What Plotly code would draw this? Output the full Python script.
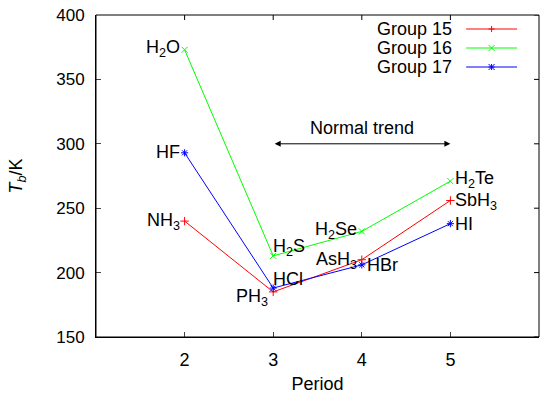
import plotly.graph_objects as go

periods = [2, 3, 4, 5]
group15 = [240, 185, 210, 256]
group16 = [373, 213, 232, 271]
group17 = [293, 188, 206, 238]
series_names = ["Group 15", "Group 16", "Group 17"]
series_colors = ["#ff0000", "#00ff00", "#0000ff"]
series_symbols = ["cross-thin", "x-thin", "asterisk"]
x_ticks = [2, 3, 4, 5]
y_ticks = [150, 200, 250, 300, 350, 400]
x_range = [1, 6]
y_range = [150, 400]

labels15 = ["NH<sub>3</sub>", "PH<sub>3</sub>", "AsH<sub>3</sub>", "SbH<sub>3</sub>"]
labels16 = ["H<sub>2</sub>O", "H<sub>2</sub>S", "H<sub>2</sub>Se", "H<sub>2</sub>Te"]
labels17 = ["HF", "HCl", "HBr", "HI"]

FONT = "Liberation Sans, Arial, sans-serif"
FS = 18
TL = 5
fig = go.Figure()
for name, vals, col, sym in zip(series_names, [group15, group16, group17], series_colors, series_symbols):
    fig.add_trace(go.Scatter(
        x=periods, y=vals, mode="lines+markers", name=name, showlegend=False,
        line=dict(color=col, width=1),
        marker=dict(symbol=sym, size=6, color=col, line=dict(color=col, width=1)),
        hoverinfo="skip",
    ))

ann = []
def lab(text, x, y, xanchor, dx=0, dy=0):
    ann.append(dict(x=x, y=y, xref="x", yref="y", text=text, showarrow=False,
                    xanchor=xanchor, yanchor="middle", xshift=dx, yshift=dy,
                    font=dict(family=FONT, size=FS, color="black")))

lab(labels16[0], periods[0], group16[0], "right", -3, 1)
lab(labels17[0], periods[0], group17[0], "right", -3, 1)
lab(labels15[0], periods[0], group15[0], "right", -3, 0)
lab(labels16[1], periods[1], group16[1], "left", -2, 8)
lab(labels17[1], periods[1], group17[1], "left", -2, 9)
lab(labels15[1], periods[1], group15[1], "right", -3, -6)
lab(labels16[2], periods[2], group16[2], "right", -3, 1)
lab(labels15[2], periods[2], group15[2], "right", -3, -1)
lab(labels17[2], periods[2], group17[2], "left", 3, 0)
lab(labels16[3], periods[3], group16[3], "left", 3, 2)
lab(labels15[3], periods[3], group15[3], "left", 3, -1)
lab(labels17[3], periods[3], group17[3], "left", 3, 0)

ann.append(dict(x=5, y=300, ax=3, ay=300, xref="x", yref="y", axref="x", ayref="y",
                showarrow=True, arrowhead=2, arrowside="end+start", arrowsize=1.2,
                arrowwidth=1, arrowcolor="black", text=""))
ann.append(dict(x=4, y=312, xref="x", yref="y", text="Normal trend", showarrow=False,
                font=dict(family=FONT, size=FS, color="black")))

# frame and mirrored ticks (top and right)
shapes = [dict(type="rect", xref="paper", yref="paper", x0=0, x1=1, y0=0, y1=1,
               line=dict(color="black", width=1), layer="above")]
for xv in x_ticks:
    shapes.append(dict(type="line", xref="x", yref="paper", ysizemode="pixel", yanchor=1,
                       x0=xv, x1=xv, y0=0, y1=-TL, line=dict(color="black", width=1)))
for yv in y_ticks:
    shapes.append(dict(type="line", xref="paper", yref="y", xsizemode="pixel", xanchor=1,
                       x0=0, x1=-TL, y0=yv, y1=yv, line=dict(color="black", width=1)))

leg_y = [0.9565, 0.8975, 0.8385]
for name, col, sym, py in zip(series_names, series_colors, series_symbols, leg_y):
    ann.append(dict(x=0.8086, y=py, xref="paper", yref="paper", text=name, showarrow=False,
                    xanchor="right", yanchor="middle", font=dict(family=FONT, size=FS, color="black")))
    shapes.append(dict(type="line", xref="paper", yref="paper", x0=0.8356, x1=0.9505, y0=py, y1=py,
                       line=dict(color=col, width=1)))
    segs = []
    if sym in ("cross-thin", "asterisk"):
        segs += [(-3, 0, 3, 0), (0, -3, 0, 3)]
    if sym in ("x-thin", "asterisk"):
        segs += [(-3, -3, 3, 3), (-3, 3, 3, -3)]
    for (a, b, c, d) in segs:
        shapes.append(dict(type="line", xref="paper", yref="paper",
                           xsizemode="pixel", ysizemode="pixel", xanchor=0.893, yanchor=py,
                           x0=a, y0=b, x1=c, y1=d, line=dict(color=col, width=1)))

fig.update_layout(
    width=540, height=394,
    margin=dict(l=96, r=1, t=15, b=57, autoexpand=False),
    paper_bgcolor="white", plot_bgcolor="white",
    font=dict(family=FONT, size=FS, color="black"),
    annotations=ann, shapes=shapes,
    showlegend=False, hovermode=False,
    xaxis=dict(range=x_range, tickvals=x_ticks, ticks="inside", ticklen=TL,
               showline=True, linecolor="black", linewidth=1,
               showgrid=False, zeroline=False, tickfont=dict(size=FS), automargin=False,
               ticklabelstandoff=6, ticklabeloverflow="allow",
               title=dict(text="Period", font=dict(size=FS), standoff=10)),
    yaxis=dict(range=y_range, tickvals=y_ticks, ticks="inside", ticklen=TL,
               showline=True, linecolor="black", linewidth=1,
               showgrid=False, zeroline=False, tickfont=dict(size=17), automargin=False,
               ticklabelstandoff=7, ticklabeloverflow="allow",
               title=dict(text="<i>T</i><sub><i>b</i></sub>/K", font=dict(size=FS), standoff=28)),
)

# remove the default page margin so the 540x394 figure fills the window exactly
fig.write_html("out.html", config={"displayModeBar": False, "staticPlot": True},
               post_script="document.body.style.margin='0';document.body.style.overflow='hidden';")
